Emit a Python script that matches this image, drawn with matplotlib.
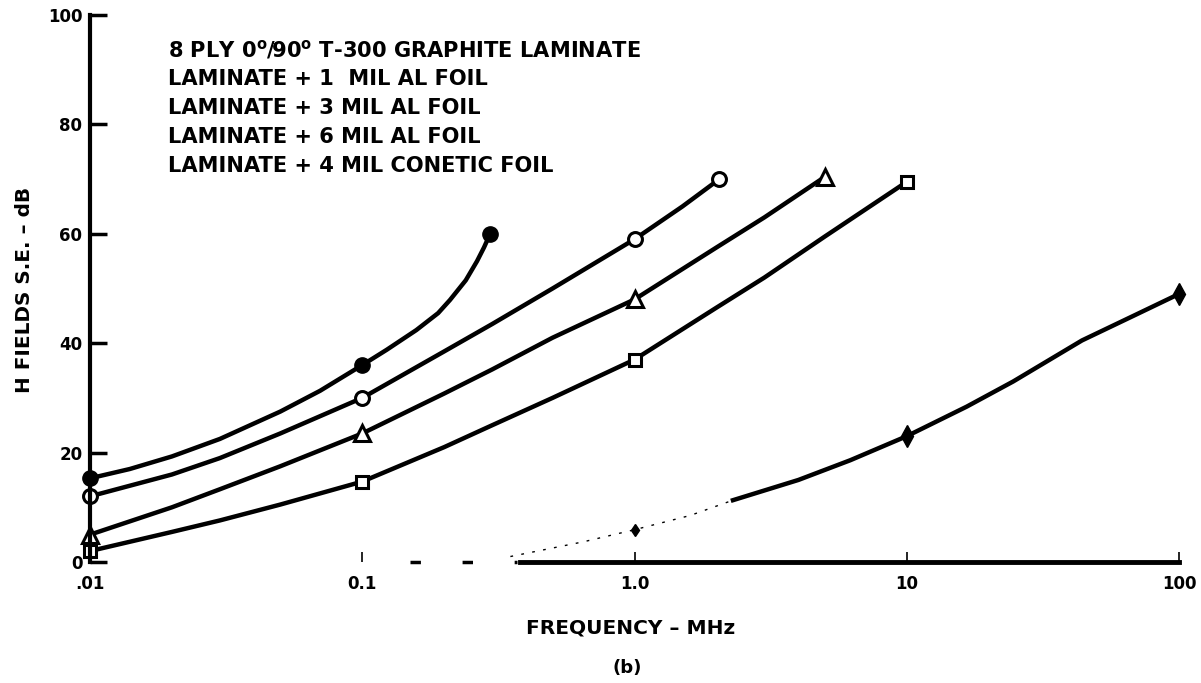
import matplotlib
matplotlib.use("Agg")
import matplotlib.pyplot as plt

plt.rcParams['font.family'] = ['DejaVu Sans']
plt.rcParams['font.weight'] = 'bold'

# ---- data (frequency in MHz, shielding effectiveness in dB)
a_freq = [0.01, 0.014, 0.02, 0.03, 0.05, 0.07, 0.1, 0.123, 0.158, 0.19, 0.21, 0.24, 0.264, 0.28, 0.295]
a_db = [15.3, 17.0, 19.3, 22.5, 27.5, 31.3, 36.0, 38.8, 42.4, 45.5, 47.9, 51.5, 55.0, 57.5, 60.0]
a_marks = [0, 6, 14]

b_freq = [0.01, 0.02, 0.03, 0.05, 0.1, 0.2, 0.3, 0.5, 1.0, 1.5, 2.05]
b_db = [12.0, 16.0, 19.0, 23.5, 30.0, 38.5, 43.5, 50.0, 59.0, 65.0, 70.0]
b_marks = [0, 4, 8, 10]

c_freq = [0.01, 0.02, 0.03, 0.05, 0.1, 0.2, 0.3, 0.5, 1.0, 2.0, 3.0, 5.0]
c_db = [5.0, 10.0, 13.3, 17.5, 23.5, 30.8, 35.2, 41.0, 48.0, 57.5, 63.0, 70.4]
c_marks = [0, 4, 8, 11]

d_freq = [0.01, 0.02, 0.03, 0.05, 0.1, 0.2, 0.3, 0.5, 1.0, 2.0, 3.0, 5.0, 10.0]
d_db = [2.0, 5.5, 7.6, 10.5, 14.7, 21.0, 25.0, 30.0, 37.0, 46.5, 52.0, 59.5, 69.5]
d_marks = [0, 4, 8, 12]

e_freq = [2.3, 4.0, 6.2, 10.0, 16.6, 24.6, 44.0, 68.0, 100.0]
e_db = [11.3, 15.0, 18.6, 23.0, 28.4, 33.0, 40.5, 45.0, 49.0]
e_marks = [3, 8]
e_dot_freq = [0.35, 0.65, 1.0, 1.6, 2.3]
e_dot_db = [1.0, 3.7, 5.9, 8.5, 11.3]

legend_lines = [
    "8 PLY 0$^{\\mathregular{o}}$/90$^{\\mathregular{o}}$ T-300 GRAPHITE LAMINATE",
    "LAMINATE + 1  MIL AL FOIL",
    "LAMINATE + 3 MIL AL FOIL",
    "LAMINATE + 6 MIL AL FOIL",
    "LAMINATE + 4 MIL CONETIC FOIL",
]
x_ticks = [0.01, 0.1, 1.0, 10.0, 100.0]
x_ticklabels = [".01", "0.1", "1.0", "10", "100"]
y_ticks = [0, 20, 40, 60, 80, 100]
y_ticklabels = ["0", "20", "40", "60", "80", "100"]

W, H = 1201, 683
fig = plt.figure(figsize=(W / 100, H / 100), dpi=100)
ax = fig.add_axes([90 / W, 1 - 562 / H, (1179 - 90) / W, (562 - 15) / H])
ax.set_xscale('log')
ax.set_xlim(0.01, 100)
ax.set_ylim(0, 100)

lw = 3.2
k = 'black'
ax.plot(a_freq, a_db, color=k, lw=lw, marker='o', markevery=a_marks,
        markersize=11, markerfacecolor=k, markeredgecolor=k, clip_on=False)
ax.plot(b_freq, b_db, color=k, lw=lw, marker='o', markevery=b_marks,
        markersize=10, markerfacecolor='white', markeredgecolor=k, markeredgewidth=2.2, clip_on=False)
ax.plot(c_freq, c_db, color=k, lw=lw, marker='^', markevery=c_marks,
        markersize=11, markerfacecolor='white', markeredgecolor=k, markeredgewidth=2.2, clip_on=False)
ax.plot(d_freq, d_db, color=k, lw=lw, marker='s', markevery=d_marks,
        markersize=9, markerfacecolor='white', markeredgecolor=k, markeredgewidth=2.2, clip_on=False)
ax.plot(e_dot_freq, e_dot_db, color=k, lw=1.0, ls=(0, (2, 6)), marker='d', markevery=[2],
        markersize=6, markerfacecolor=k, markeredgecolor=k, clip_on=False)
ax.plot(e_freq, e_db, color=k, lw=lw, marker='d', markevery=e_marks,
        markersize=11, markerfacecolor=k, markeredgecolor=k, clip_on=False)

# axes styling
for s in ['top', 'right']:
    ax.spines[s].set_visible(False)
ax.spines['left'].set_linewidth(3)
ax.spines['bottom'].set_linewidth(3.5)
ax.spines['bottom'].set_bounds(0.38, 100)
ax.plot([0.15, 0.37], [0, 0], color=k, lw=2.5, ls=(0, (3, 12)), clip_on=False)

ax.set_yticks(y_ticks)
ax.set_yticklabels(y_ticklabels, fontsize=12, fontweight='bold')
ax.tick_params(axis='y', direction='in', length=12, width=2.5, pad=5.5)
ax.set_xticks(x_ticks)
ax.set_xticklabels(x_ticklabels, fontsize=12, fontweight='bold')
ax.tick_params(axis='x', direction='in', length=7, width=1.2, pad=9.5)
ax.xaxis.set_minor_locator(matplotlib.ticker.NullLocator())

xl = ax.set_xlabel("FREQUENCY \u2013 MHz", fontsize=13, fontweight='bold', va='center')
ax.xaxis.set_label_coords((631 - 90) / 1089, (562 - 628) / 547)
yl = ax.set_ylabel("H FIELDS S.E. \u2013 dB", fontsize=15, fontweight='bold', va='center')
ax.yaxis.set_label_coords((24 - 90) / 1089, (562 - 290) / 547)

# legend text block
texts = []
for i, t in enumerate(legend_lines):
    texts.append(fig.text(168 / W, 1 - (50 + 29 * i) / H, t, fontsize=15, fontweight='bold',
                          ha='left', va='center'))

fig.text(627 / W, 1 - 668 / H, "(b)", fontsize=13, fontweight='bold', ha='center', va='center')

# fit text sizes to the extents measured on the picture
renderer = fig.canvas.get_renderer()
w5 = texts[-1].get_window_extent(renderer).width
for t in texts:
    t.set_fontsize(15 * (553 - 168) / w5)
yl.set_fontsize(15 * 206 / yl.get_window_extent(renderer).height)
xl.set_fontsize(13 * 208 / xl.get_window_extent(renderer).width)

fig.savefig("out.png", dpi=100, facecolor='white')
